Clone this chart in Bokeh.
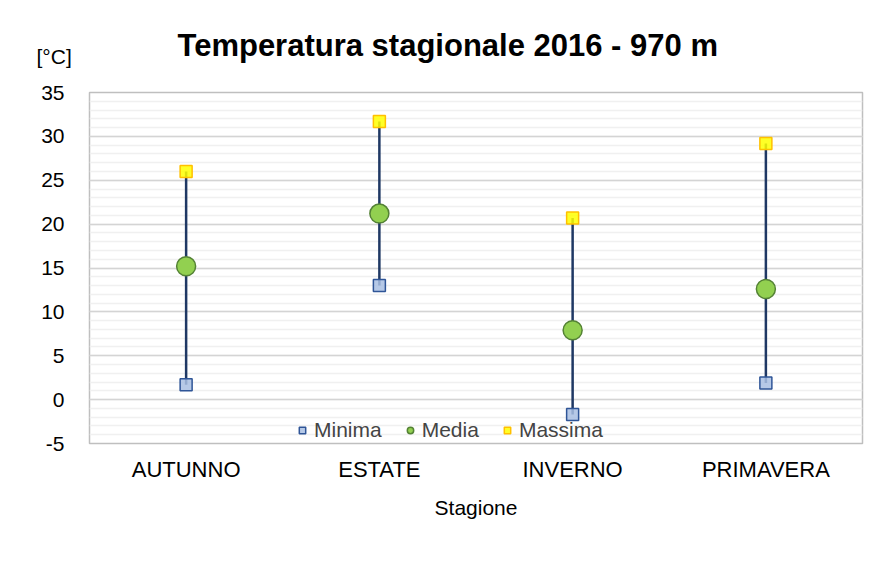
from bokeh.plotting import figure
from bokeh.models import (Range1d, FactorRange, FixedTicker, Legend, LegendItem,
                          Label, ColumnDataSource, Title, PrintfTickFormatter)
from bokeh.embed import file_html
from bokeh.resources import INLINE

stagioni = ["AUTUNNO", "ESTATE", "INVERNO", "PRIMAVERA"]
minima = [1.7, 13.0, -1.7, 1.9]
media = [15.2, 21.2, 7.9, 12.6]
massima = [26.0, 31.7, 20.7, 29.2]
y_ticks = [-5, 0, 5, 10, 15, 20, 25, 30, 35]
y_minor = list(range(-5, 36))

FONT = "Liberation Sans"

src = ColumnDataSource(dict(x=stagioni, lo=minima, mid=media, hi=massima))

p = figure(x_range=FactorRange(*stagioni, range_padding=0), y_range=Range1d(-5, 35),
           width=871, height=575, frame_width=773, frame_height=351,
           min_border_left=89, min_border_top=92, min_border_right=9, min_border_bottom=132,
           output_backend="svg", toolbar_location=None)

p.background_fill_color = "white"
p.border_fill_color = "white"
p.outline_line_color = "#BFBFBF"
p.outline_line_width = 1.5

p.title = Title(text="Temperatura stagionale 2016 - 970 m", align="left", offset=88,
                text_font=FONT, text_font_size="31px", text_font_style="bold",
                text_color="#000000", standoff=14)

# grid
p.xgrid.grid_line_color = None
p.yaxis.ticker = FixedTicker(ticks=y_ticks, minor_ticks=y_minor)
p.yaxis.formatter = PrintfTickFormatter(format="%d")
p.ygrid.grid_line_color = "#D4D4D4"
p.ygrid.grid_line_width = 1.5
p.ygrid.minor_grid_line_color = "#F0F0F0"
p.ygrid.minor_grid_line_width = 1.5

# axes
for ax in (p.xaxis, p.yaxis):
    ax.axis_line_color = None
    ax.major_tick_line_color = None
    ax.minor_tick_line_color = None
    ax.major_label_text_font = FONT
    ax.major_label_text_color = "#000000"
p.yaxis.major_label_text_font_size = "21px"
p.xaxis.major_label_text_font_size = "22px"
p.yaxis.major_label_standoff = 19
p.xaxis.major_label_standoff = 7
p.xaxis.axis_label = "Stagione"
p.xaxis.axis_label_text_font = FONT
p.xaxis.axis_label_text_font_size = "21px"
p.xaxis.axis_label_text_font_style = "normal"
p.xaxis.axis_label_text_color = "#000000"
p.xaxis.axis_label_standoff = 11

# high-low lines
p.segment(x0="x", y0="lo", x1="x", y1="hi", source=src, line_color="#1F3864", line_width=2.5)

r_min = p.scatter(x="x", y="lo", source=src, marker="square", size=12,
                  fill_color="#A9BFE3", fill_alpha=0.85, line_color="#2F5597", line_width=1.5)
r_med = p.scatter(x="x", y="mid", source=src, marker="circle", size=19,
                  fill_color="#92D050", line_color="#548235", line_width=1.5)
r_max = p.scatter(x="x", y="hi", source=src, marker="square", size=12,
                  fill_color="#FFFF00", fill_alpha=0.85, line_color="#FFC000", line_width=1.5)

legend = Legend(items=[LegendItem(label="Minima", renderers=[r_min]),
                       LegendItem(label="Media", renderers=[r_med]),
                       LegendItem(label="Massima", renderers=[r_max])],
                orientation="horizontal", location=(205, 1),
                label_text_font=FONT, label_text_font_size="21px",
                label_standoff=4, spacing=20, glyph_width=16, glyph_height=16,
                border_line_color=None, background_fill_alpha=0,
                padding=2, margin=0)
p.add_layout(legend, "center")

# unit label
p.add_layout(Label(x=-53, y=36, x_units="screen", y_units="screen", text="[°C]",
                   text_font=FONT, text_font_size="21px",
                   text_align="left", text_baseline="middle", text_color="#000000"), "above")

open("out.html", "w").write(file_html(p, INLINE))
